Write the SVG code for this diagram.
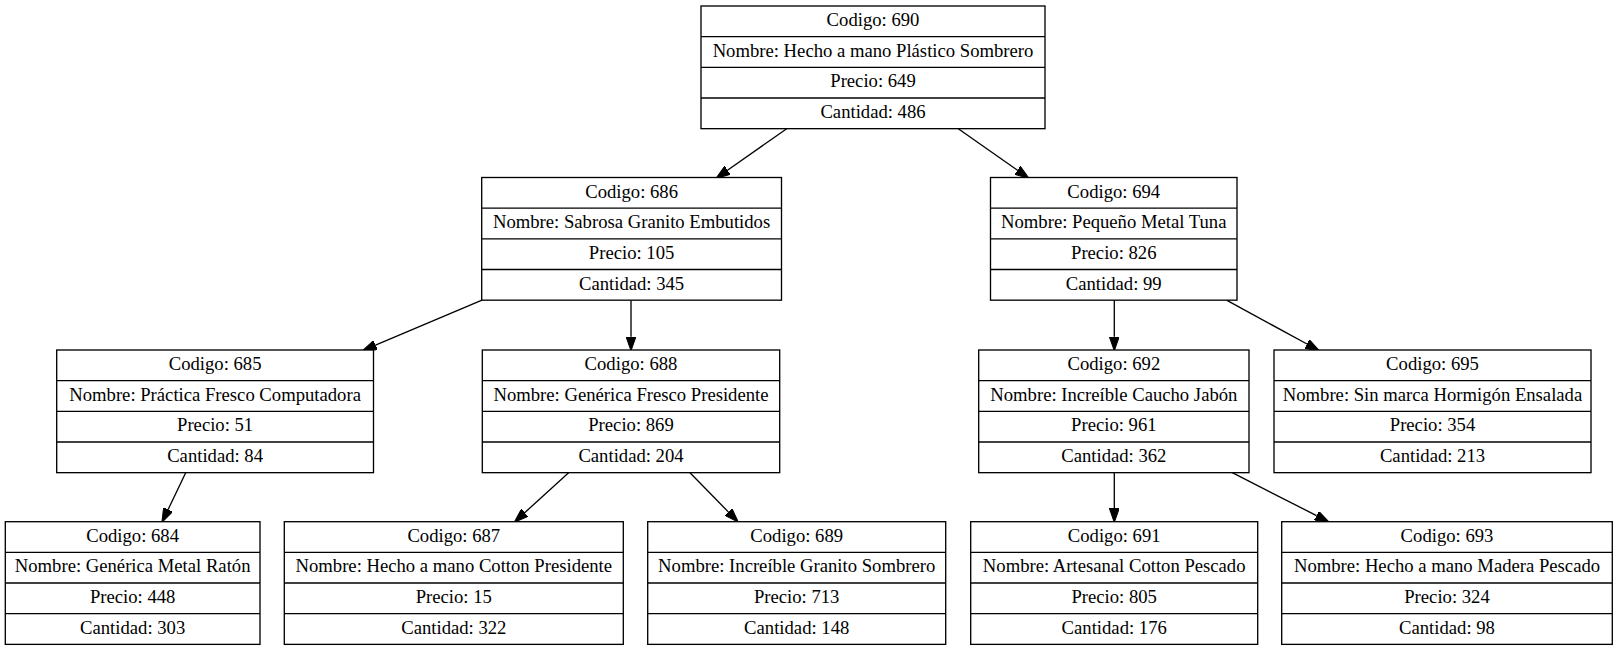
<svg xmlns="http://www.w3.org/2000/svg" width="1618" height="651" viewBox="0 0 1618 651">
<style>
.box{fill:#fff;stroke:#000;stroke-width:1.33}
.sep{stroke:#000;stroke-width:1.33}
text{font-family:"Liberation Serif","Times New Roman",serif;font-size:18.67px;text-anchor:middle;fill:#000}
.edge{stroke:#000;stroke-width:1.33;fill:none;marker-end:url(#arr)}
</style>
<defs>
<marker id="arr" markerUnits="userSpaceOnUse" markerWidth="14" markerHeight="10" viewBox="0 0 13.3 9.3" refX="0" refY="4.65" orient="auto">
<path d="M0,0 L13.3,4.65 L0,9.3 Z" fill="#000" stroke="#000" stroke-width="1"/>
</marker>
</defs>
<rect width="1618" height="651" fill="#fff"/>
<g id="connectors">
<line class="edge" x1="786.7" y1="128.7" x2="727.5" y2="170.3"/>
<line class="edge" x1="958.3" y1="128.7" x2="1017.5" y2="170.3"/>
<line class="edge" x1="482" y1="300.2" x2="375.5" y2="345.1"/>
<line class="edge" x1="631" y1="300.2" x2="631" y2="336.7"/>
<line class="edge" x1="185.7" y1="472.7" x2="168" y2="509.7"/>
<line class="edge" x1="568.6" y1="472.7" x2="524.7" y2="512.7"/>
<line class="edge" x1="690" y1="472.7" x2="728.5" y2="512.1"/>
<line class="edge" x1="1114.3" y1="300.2" x2="1114.3" y2="336.7"/>
<line class="edge" x1="1226.5" y1="300.2" x2="1307" y2="344"/>
<line class="edge" x1="1114.3" y1="472.7" x2="1114.3" y2="508.4"/>
<line class="edge" x1="1232.3" y1="472.7" x2="1316.5" y2="515.6"/>
</g>
<g id="n690" transform="translate(701,6)">
<rect class="box" width="344" height="122.67"/>
<line class="sep" x1="0" y1="30.67" x2="344" y2="30.67"/><line class="sep" x1="0" y1="61.33" x2="344" y2="61.33"/><line class="sep" x1="0" y1="92" x2="344" y2="92"/>
<text x="172" y="20">Codigo: 690</text><text x="172" y="50.67">Nombre: Hecho a mano Plástico Sombrero</text><text x="172" y="81.33">Precio: 649</text><text x="172" y="112">Cantidad: 486</text>
</g>
<g id="n686" transform="translate(481.7,177.5)">
<rect class="box" width="299.8" height="122.67"/>
<line class="sep" x1="0" y1="30.67" x2="299.8" y2="30.67"/><line class="sep" x1="0" y1="61.33" x2="299.8" y2="61.33"/><line class="sep" x1="0" y1="92" x2="299.8" y2="92"/>
<text x="149.9" y="20">Codigo: 686</text><text x="149.9" y="50.67">Nombre: Sabrosa Granito Embutidos</text><text x="149.9" y="81.33">Precio: 105</text><text x="149.9" y="112">Cantidad: 345</text>
</g>
<g id="n694" transform="translate(990.5,177.5)">
<rect class="box" width="246.5" height="122.67"/>
<line class="sep" x1="0" y1="30.67" x2="246.5" y2="30.67"/><line class="sep" x1="0" y1="61.33" x2="246.5" y2="61.33"/><line class="sep" x1="0" y1="92" x2="246.5" y2="92"/>
<text x="123.25" y="20">Codigo: 694</text><text x="123.25" y="50.67">Nombre: Pequeño Metal Tuna</text><text x="123.25" y="81.33">Precio: 826</text><text x="123.25" y="112">Cantidad: 99</text>
</g>
<g id="n685" transform="translate(56.7,350)">
<rect class="box" width="316.8" height="122.67"/>
<line class="sep" x1="0" y1="30.67" x2="316.8" y2="30.67"/><line class="sep" x1="0" y1="61.33" x2="316.8" y2="61.33"/><line class="sep" x1="0" y1="92" x2="316.8" y2="92"/>
<text x="158.4" y="20">Codigo: 685</text><text x="158.4" y="50.67">Nombre: Práctica Fresco Computadora</text><text x="158.4" y="81.33">Precio: 51</text><text x="158.4" y="112">Cantidad: 84</text>
</g>
<g id="n688" transform="translate(482.3,350)">
<rect class="box" width="297.4" height="122.67"/>
<line class="sep" x1="0" y1="30.67" x2="297.4" y2="30.67"/><line class="sep" x1="0" y1="61.33" x2="297.4" y2="61.33"/><line class="sep" x1="0" y1="92" x2="297.4" y2="92"/>
<text x="148.7" y="20">Codigo: 688</text><text x="148.7" y="50.67">Nombre: Genérica Fresco Presidente</text><text x="148.7" y="81.33">Precio: 869</text><text x="148.7" y="112">Cantidad: 204</text>
</g>
<g id="n692" transform="translate(978.7,350)">
<rect class="box" width="270.3" height="122.67"/>
<line class="sep" x1="0" y1="30.67" x2="270.3" y2="30.67"/><line class="sep" x1="0" y1="61.33" x2="270.3" y2="61.33"/><line class="sep" x1="0" y1="92" x2="270.3" y2="92"/>
<text x="135.15" y="20">Codigo: 692</text><text x="135.15" y="50.67">Nombre: Increíble Caucho Jabón</text><text x="135.15" y="81.33">Precio: 961</text><text x="135.15" y="112">Cantidad: 362</text>
</g>
<g id="n695" transform="translate(1274,350)">
<rect class="box" width="317" height="122.67"/>
<line class="sep" x1="0" y1="30.67" x2="317" y2="30.67"/><line class="sep" x1="0" y1="61.33" x2="317" y2="61.33"/><line class="sep" x1="0" y1="92" x2="317" y2="92"/>
<text x="158.5" y="20">Codigo: 695</text><text x="158.5" y="50.67">Nombre: Sin marca Hormigón Ensalada</text><text x="158.5" y="81.33">Precio: 354</text><text x="158.5" y="112">Cantidad: 213</text>
</g>
<g id="n684" transform="translate(5.3,521.7)">
<rect class="box" width="254.7" height="122.67"/>
<line class="sep" x1="0" y1="30.67" x2="254.7" y2="30.67"/><line class="sep" x1="0" y1="61.33" x2="254.7" y2="61.33"/><line class="sep" x1="0" y1="92" x2="254.7" y2="92"/>
<text x="127.35" y="20">Codigo: 684</text><text x="127.35" y="50.67">Nombre: Genérica Metal Ratón</text><text x="127.35" y="81.33">Precio: 448</text><text x="127.35" y="112">Cantidad: 303</text>
</g>
<g id="n687" transform="translate(284.3,521.7)">
<rect class="box" width="339" height="122.67"/>
<line class="sep" x1="0" y1="30.67" x2="339" y2="30.67"/><line class="sep" x1="0" y1="61.33" x2="339" y2="61.33"/><line class="sep" x1="0" y1="92" x2="339" y2="92"/>
<text x="169.5" y="20">Codigo: 687</text><text x="169.5" y="50.67">Nombre: Hecho a mano Cotton Presidente</text><text x="169.5" y="81.33">Precio: 15</text><text x="169.5" y="112">Cantidad: 322</text>
</g>
<g id="n689" transform="translate(647.7,521.7)">
<rect class="box" width="298" height="122.67"/>
<line class="sep" x1="0" y1="30.67" x2="298" y2="30.67"/><line class="sep" x1="0" y1="61.33" x2="298" y2="61.33"/><line class="sep" x1="0" y1="92" x2="298" y2="92"/>
<text x="149" y="20">Codigo: 689</text><text x="149" y="50.67">Nombre: Increíble Granito Sombrero</text><text x="149" y="81.33">Precio: 713</text><text x="149" y="112">Cantidad: 148</text>
</g>
<g id="n691" transform="translate(970.7,521.7)">
<rect class="box" width="287" height="122.67"/>
<line class="sep" x1="0" y1="30.67" x2="287" y2="30.67"/><line class="sep" x1="0" y1="61.33" x2="287" y2="61.33"/><line class="sep" x1="0" y1="92" x2="287" y2="92"/>
<text x="143.5" y="20">Codigo: 691</text><text x="143.5" y="50.67">Nombre: Artesanal Cotton Pescado</text><text x="143.5" y="81.33">Precio: 805</text><text x="143.5" y="112">Cantidad: 176</text>
</g>
<g id="n693" transform="translate(1281.7,521.7)">
<rect class="box" width="330.6" height="122.67"/>
<line class="sep" x1="0" y1="30.67" x2="330.6" y2="30.67"/><line class="sep" x1="0" y1="61.33" x2="330.6" y2="61.33"/><line class="sep" x1="0" y1="92" x2="330.6" y2="92"/>
<text x="165.3" y="20">Codigo: 693</text><text x="165.3" y="50.67">Nombre: Hecho a mano Madera Pescado</text><text x="165.3" y="81.33">Precio: 324</text><text x="165.3" y="112">Cantidad: 98</text>
</g>
</svg>
